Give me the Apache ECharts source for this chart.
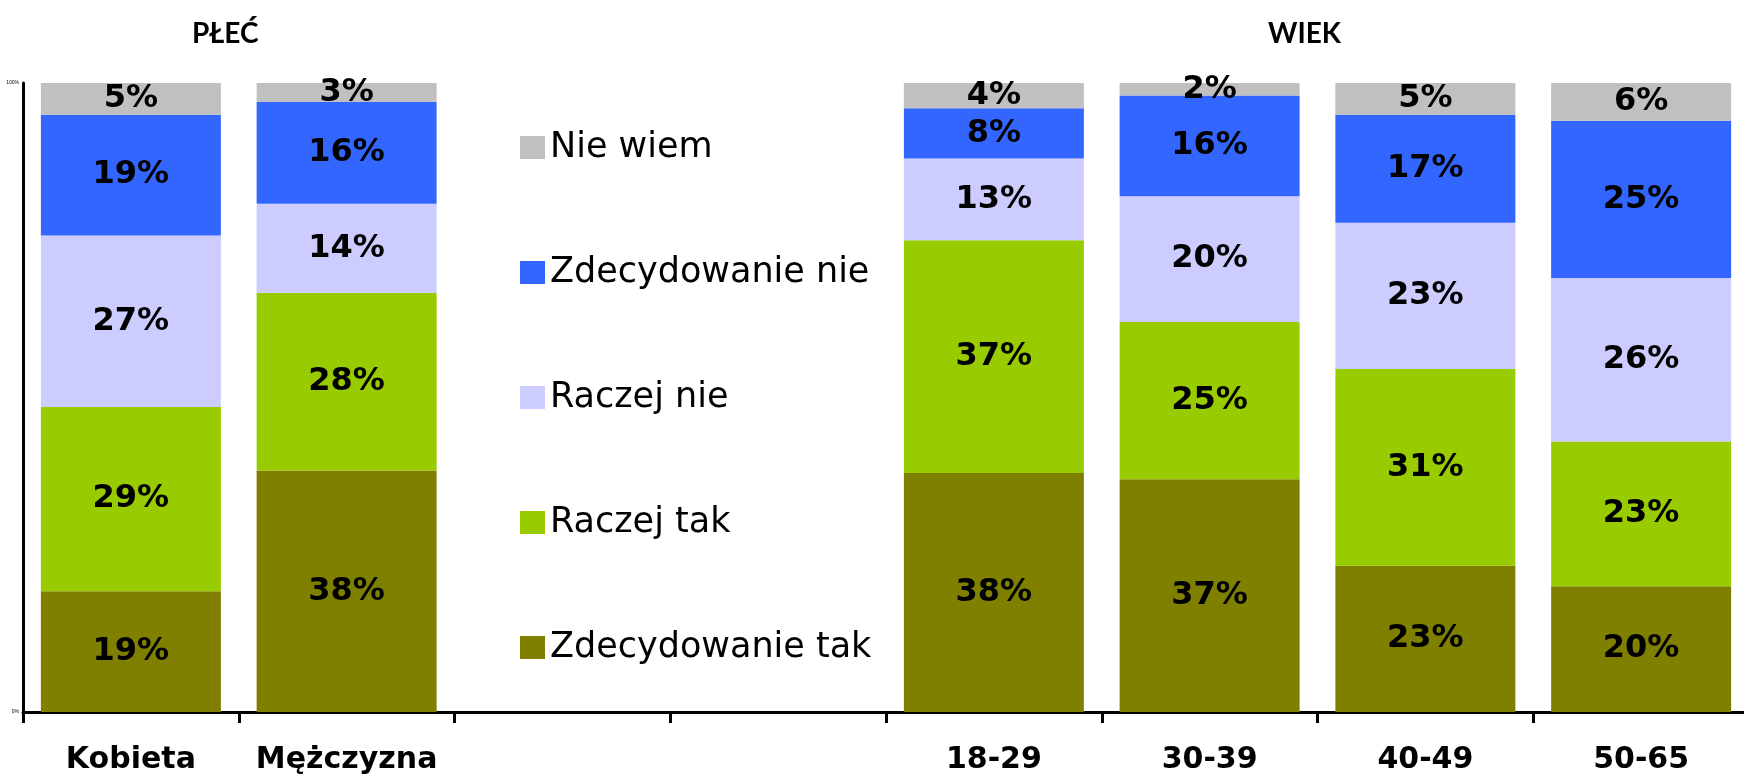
<!DOCTYPE html>
<html>
<head>
<meta charset="utf-8">
<script src="https://cdn.jsdelivr.net/npm/echarts@6/dist/echarts.min.js"></script>
<style>
    html, body { margin: 0; padding: 0; background: #fff; }
    #main { width: 1744px; height: 777px; }
</style>
</head>
<body>
<div id="main"></div>
<script>
    // kategorie (dwie puste kolumny pod legendę)
    var categories = ['Kobieta', 'Mężczyzna', '', '', '18-29', '30-39', '40-49', '50-65'];
    var seriesNames = ['Zdecydowanie tak', 'Raczej tak', 'Raczej nie', 'Zdecydowanie nie', 'Nie wiem'];
    var colors = ['#808000', '#99CC00', '#CCCCFF', '#3366FF', '#C0C0C0'];

    // wartości w % (null = pusta kolumna)
    var zdecydowanieTak = [19, 38, null, null, 38, 37, 23, 20];
    var raczejTak       = [29, 28, null, null, 37, 25, 31, 23];
    var raczejNie       = [27, 14, null, null, 13, 20, 23, 26];
    var zdecydowanieNie = [19, 16, null, null, 8, 16, 17, 25];
    var nieWiem         = [5, 3, null, null, 4, 2, 5, 6];

    var yTicks = ['0%', '100%'];

    var raw = [zdecydowanieTak, raczejTak, raczejNie, zdecydowanieNie, nieWiem];

    // wykres 100% - normalizacja każdej kolumny
    var sums = categories.map(function (c, i) {
        var s = 0;
        raw.forEach(function (arr) { if (arr[i] != null) s += arr[i]; });
        return s;
    });

    var series = raw.map(function (arr, k) {
        return {
            name: seriesNames[k],
            type: 'bar',
            stack: 'all',
            barWidth: 180,
            itemStyle: { color: colors[k] },
            label: {
                show: true,
                position: 'inside',
                fontFamily: 'DejaVu Sans',
                fontWeight: 'bold',
                fontSize: 32,
                color: '#000',
                formatter: function (p) { return arr[p.dataIndex] + '%'; }
            },
            data: arr.map(function (v, i) {
                return v == null ? '-' : v / sums[i] * 100;
            })
        };
    });

    var myChart = echarts.init(document.getElementById('main'));
    var option = {
        animation: false,
        grid: { left: 23, top: 83, width: 1726, height: 629, outerBoundsMode: 'none', containLabel: false },
        legend: {
            orient: 'vertical',
            left: 515,
            top: 125,
            itemWidth: 25,
            itemHeight: 23,
            itemGap: 90,
            icon: 'rect',
            data: seriesNames.slice().reverse(),
            textStyle: { fontFamily: 'DejaVu Sans', fontSize: 35, lineHeight: 34, color: '#000' }
        },
        graphic: [
            { type: 'text', left: 192, top: 20, style: { text: 'PŁEĆ', font: 'bold 28px Lato', fill: '#000' } },
            { type: 'text', left: 1268, top: 20, style: { text: 'WIEK', font: 'bold 28px Lato', fill: '#000' } }
        ],
        xAxis: {
            type: 'category',
            data: categories,
            axisLine: { show: true, lineStyle: { color: '#000', width: 3 } },
            axisTick: { show: true, interval: 0, length: 11, lineStyle: { color: '#000', width: 3 } },
            axisLabel: {
                interval: 0,
                margin: 33,
                fontFamily: 'DejaVu Sans',
                fontWeight: 'bold',
                fontSize: 30,
                color: '#000'
            }
        },
        yAxis: {
            type: 'value',
            min: 0,
            max: 100,
            interval: 100,
            splitLine: { show: false },
            axisTick: { show: false },
            axisLine: { show: true, lineStyle: { color: '#000', width: 3 } },
            axisLabel: {
                margin: 4,
                fontSize: 5,
                color: '#000',
                formatter: function (v) { return v === 0 ? yTicks[0] : yTicks[1]; }
            }
        },
        series: series
    };
    myChart.setOption(option);
</script>
</body>
</html>
